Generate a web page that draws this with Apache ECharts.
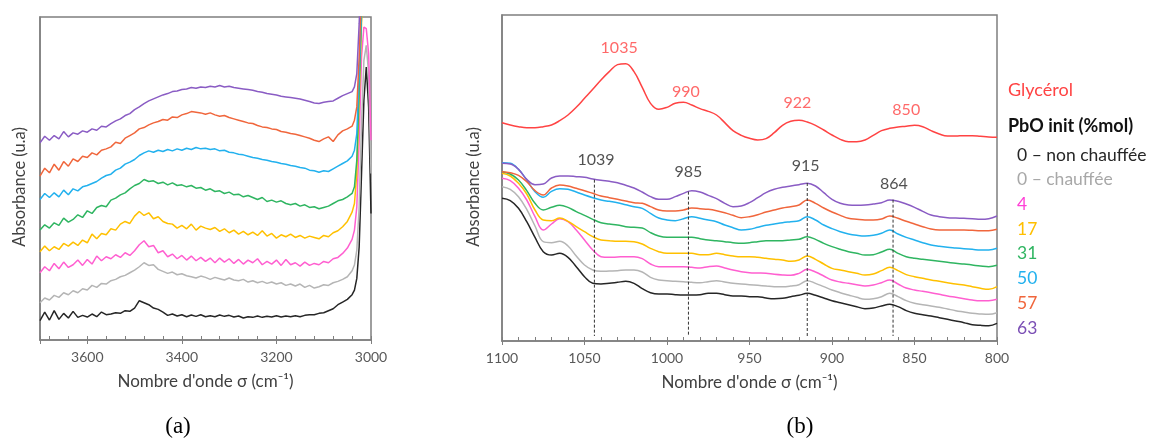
<!DOCTYPE html>
<html><head><meta charset="utf-8">
<script src="https://cdn.jsdelivr.net/npm/echarts@6/dist/echarts.min.js"></script>
<style>html,body{margin:0;padding:0;background:#fff}#c{width:1158px;height:439px}</style>
</head><body><div id="c"></div>
<script>
// ---------- Panel (a) : 3700 - 3000 cm-1 ----------
const xA = [3700,3690,3680,3670,3660,3650,3640,3630,3620,3610,3600,3590,3580,3570,3560,3550,3540,3530,3520,3510,
 3500,3490,3480,3470,3460,3450,3440,3430,3420,3410,3400,3390,3380,3370,3360,3350,3340,3330,3320,3310,
 3300,3290,3280,3270,3260,3250,3240,3230,3220,3210,3200,3190,3180,3170,3160,3150,3140,3130,3120,3110,
 3100,3090,3080,3070,3060,3050,3040,3035,3030,3025,3020,3015,3010,3005,3000];
const a_black = [5.8,8.4,6.0,8.8,6.2,8.0,6.6,8.6,6.8,7.4,6.9,7.8,7.0,8.4,7.6,7.8,8.2,8.0,8.8,8.6,
 9.6,11.8,11.2,10.6,9.6,9.2,8.4,7.4,7.8,7.2,7.6,7.0,7.5,7.1,7.6,7.0,7.3,7.0,7.5,7.1,
 7.4,6.9,7.2,6.6,7.0,6.8,7.2,6.8,7.1,6.9,7.3,6.9,7.2,7.0,7.3,7.0,7.4,7.6,7.6,8.0,
 8.2,8.8,9.4,10.6,11.4,12.2,13.6,15.0,18.5,28,50,72,82,70,38];
const a_gray = [11.2,12.6,12.0,13.4,12.8,14.2,13.6,14.8,14.2,15.4,15.0,16.4,15.8,17.0,16.8,17.8,18.2,19.0,19.4,20.2,
 21.0,22.0,23.2,22.4,22.6,21.2,20.6,20.0,20.4,19.6,19.9,19.3,19.0,18.6,19.2,18.8,18.2,18.8,18.4,18.0,
 18.6,18.0,17.8,18.2,17.4,17.8,17.2,17.6,17.0,17.4,16.8,17.2,16.4,16.8,16.2,16.8,15.8,16.4,15.6,16.0,
 16.6,16.4,17.2,17.6,18.2,19.0,20.8,22.5,27,40,65,84,88.5,80,50];
const a_pink = [20.2,22.0,20.8,23.0,21.4,23.4,21.8,22.6,24.0,22.4,24.2,22.8,25.2,23.8,25.0,24.4,25.6,24.8,26.2,25.4,
 26.8,28.6,29.8,28.0,28.4,26.2,26.8,25.0,25.8,24.4,25.4,24.0,25.2,23.8,24.8,23.6,24.6,23.2,24.6,23.4,
 24.4,23.0,24.2,22.8,24.0,23.2,24.4,22.6,23.6,22.8,24.0,22.4,24.2,22.6,23.2,22.2,23.4,22.4,23.0,22.6,
 23.6,23.2,24.4,24.8,26.0,27.6,30.2,33,40,60,85,94,93.5,86,60];
const a_yellow = [26.5,28.2,26.8,28.0,27.2,29.0,28.2,29.4,28.4,30.0,29.2,31.8,30.4,32.0,31.6,33.4,33.0,34.8,35.6,35.0,
 37.2,38.6,37.4,38.2,36.4,37.0,35.6,35.0,34.8,33.6,34.4,33.4,34.8,33.0,34.2,33.6,33.2,33.8,32.6,33.4,
 32.2,33.0,31.8,32.6,31.6,32.4,31.4,32.8,31.2,32.0,30.6,31.6,31.0,31.8,30.8,31.4,30.6,31.2,30.8,30.4,
 31.4,31.0,32.2,32.8,34.0,35.6,38.4,41,50,72,95,115,125,120,100];
const a_green = [33.0,34.6,33.6,35.2,34.4,36.6,35.4,36.2,37.6,36.8,38.8,38.0,39.8,40.4,40.0,42.0,42.6,43.6,44.2,45.4,
 46.4,47.0,48.2,47.6,47.8,47.0,47.4,46.6,47.2,46.4,46.6,46.0,46.4,45.6,45.8,45.0,45.4,44.6,44.8,44.0,
 44.4,43.6,43.8,43.0,43.4,42.8,42.2,42.8,41.6,42.0,41.4,41.8,41.0,40.6,41.0,40.2,40.6,39.8,40.0,39.4,
 39.8,40.2,41.0,41.8,42.2,43.0,44.0,46,54,75,98,120,130,125,105];
const a_blue = [42.2,44.0,42.8,44.2,43.0,45.0,43.6,45.4,44.8,46.0,46.4,47.0,47.6,48.6,49.4,49.8,51.0,51.6,52.8,53.4,
 54.2,55.4,56.2,56.8,56.4,57.0,56.6,57.2,56.8,57.4,57.0,57.6,57.2,57.8,57.4,57.6,57.2,57.4,56.8,57.0,
 56.4,56.2,55.8,55.6,55.2,54.8,54.6,54.2,54.0,53.6,53.4,53.0,52.8,52.4,52.2,51.8,51.6,51.0,50.8,50.4,
 50.8,50.6,51.4,52.2,53.0,53.8,55.2,57,62,80,100,125,135,130,110];
const a_orange = [49.2,51.6,50.2,52.8,51.0,53.6,52.2,54.4,53.6,55.2,54.8,56.2,55.6,57.0,57.4,58.0,59.4,59.0,60.6,61.4,
 62.2,63.4,63.8,64.6,65.2,65.6,66.2,66.0,67.0,66.8,67.6,68.0,68.6,68.4,68.2,67.8,68.2,67.6,67.2,67.4,
 66.8,66.4,66.0,65.6,65.2,65.0,64.4,64.0,63.8,63.4,63.2,62.6,62.4,62.0,61.8,61.4,61.0,60.6,60.0,59.6,
 60.4,61.0,59.6,61.6,62.8,63.4,64.2,66,70,85,105,130,140,135,115];
const a_purple = [59.2,61.2,60.0,61.4,60.4,62.6,61.0,62.2,61.8,62.8,62.4,63.4,63.0,64.2,64.0,65.0,65.8,66.4,67.4,68.0,
 69.2,70.0,71.0,71.8,72.4,73.0,73.6,74.0,74.6,74.8,75.2,75.4,75.8,75.6,76.0,75.8,76.2,76.0,76.4,76.0,
 76.2,75.8,75.6,75.4,75.2,75.0,74.6,74.4,74.0,73.8,73.6,73.2,73.0,72.8,72.6,72.4,72.0,71.6,71.2,71.0,
 71.4,71.6,71.8,72.6,73.4,74.0,74.6,76,80,95,115,140,150,145,125];

// ---------- Panel (b) : 1100 - 800 cm-1 ----------
const xB = [1100,1095,1090,1085,1080,1075,1070,1065,1060,1055,1050,1045,1040,1035,1030,1025,1020,1015,1010,1005,
 1000,995,990,985,980,975,970,965,960,955,950,945,940,935,930,925,920,915,910,905,
 900,895,890,885,880,875,870,865,860,855,850,845,840,835,830,825,820,815,810,805,800];
const b_glycerol = [65.5,64.8,64.3,64.0,64.0,64.3,64.8,66.1,67.8,70.1,72.8,75.5,78.3,80.8,82.9,83.2,80.8,76.1,71.3,69.5,
 70.1,71.3,71.6,70.8,69.7,68.9,67.8,65.5,63.1,61.7,60.8,60.3,60.7,62.5,64.7,65.9,66.2,65.7,64.7,63.3,
 61.8,60.5,59.8,59.8,60.3,61.7,63.1,63.8,64.2,64.4,64.7,64.3,63.1,62.1,61.5,61.5,61.6,61.6,61.4,61.2,61.1];
const b_black = [42.8,42.1,39.8,35.8,31.1,26.8,25.8,26.3,25.1,22.3,19.3,17.3,17.1,17.3,17.6,17.9,17.3,15.7,14.5,14.1,
 14.1,13.9,13.8,13.8,13.9,14.3,14.3,13.9,13.5,13.5,13.3,13.3,12.9,12.7,12.8,13.3,13.7,14.3,13.7,12.9,
 12.1,11.5,10.9,10.3,9.7,9.9,10.5,11.0,10.3,9.1,8.3,7.9,7.5,7.0,6.5,6.0,5.5,4.9,4.7,4.6,5.3];
const b_gray = [46.3,45.5,43.3,39.5,34.5,29.8,29.5,29.9,28.5,25.5,22.8,21.3,20.9,21.0,21.1,21.3,21.3,20.7,19.1,18.3,
 18.1,17.9,17.8,17.6,17.5,17.8,18.1,17.7,17.3,17.1,16.9,16.7,16.5,16.3,16.3,16.5,16.9,18.1,17.3,16.3,
 15.3,14.5,13.8,13.1,12.5,12.7,13.3,14.3,13.3,12.1,11.3,10.9,10.5,10.1,9.6,9.1,8.7,8.3,8.1,8.0,8.5];
const b_pink = [48.8,48.1,45.8,42.3,37.3,33.3,35.1,36.7,35.8,33.3,30.3,27.3,25.3,25.1,25.2,25.3,25.3,24.7,23.1,22.3,
 22.3,22.3,22.3,22.1,21.9,22.3,22.5,21.9,21.3,20.8,20.5,20.4,20.3,20.0,19.8,19.7,20.3,21.5,20.7,19.5,
 18.3,17.7,17.3,16.9,16.5,16.8,17.5,18.3,17.1,15.9,15.3,14.9,14.5,14.0,13.5,13.1,12.7,12.3,12.1,12.1,12.5];
const b_yellow = [50.3,49.5,47.3,44.1,39.3,36.3,36.1,36.9,35.9,34.3,32.8,31.3,30.3,30.1,29.9,29.9,29.8,29.1,27.8,26.8,
 26.3,26.3,26.3,26.3,25.9,25.9,26.3,25.9,25.5,25.3,25.3,25.1,24.8,24.5,24.3,23.9,24.3,25.5,24.5,23.1,
 21.8,21.3,20.8,20.3,19.8,20.1,21.1,22.1,21.1,19.9,19.3,18.8,18.3,17.9,17.5,17.1,16.8,16.3,15.8,15.5,16.3];
const b_green = [50.8,50.1,48.3,45.1,41.3,39.3,40.1,40.7,40.1,38.8,37.7,36.5,35.5,35.1,34.8,34.3,34.1,33.9,32.5,31.5,
 31.1,31.1,31.1,31.1,30.7,30.3,30.1,29.8,29.5,29.3,29.5,29.8,30.1,30.1,30.1,30.3,30.5,31.3,30.5,29.3,
 28.3,27.5,26.8,26.3,25.8,25.9,26.7,27.5,26.3,25.3,24.8,24.5,24.2,23.9,23.6,23.3,23.1,22.8,22.5,22.3,22.7];
const b_blue = [53.5,53.3,51.5,48.3,44.8,43.1,44.9,45.7,45.5,44.7,43.8,43.0,42.3,41.9,41.5,40.9,40.3,39.8,38.3,36.9,
 36.3,36.1,36.7,37.3,36.8,36.3,35.8,34.8,34.0,33.3,33.5,34.1,34.7,35.1,35.5,35.8,36.1,37.3,36.3,34.8,
 33.7,32.8,32.1,31.7,31.5,31.7,32.3,33.3,32.1,31.1,30.3,29.5,28.8,28.4,28.1,27.9,27.7,27.5,27.3,27.3,27.8];
const b_orange = [50.8,50.5,49.7,47.8,45.1,43.8,45.9,46.8,46.5,45.8,45.1,44.3,43.5,43.0,42.5,42.0,41.5,41.3,40.3,39.3,
 39.0,39.0,39.3,39.9,39.7,39.5,39.1,38.5,37.7,37.0,37.3,37.9,38.7,39.3,39.9,40.3,40.8,42.3,41.3,39.9,
 38.7,37.7,36.8,36.5,36.3,36.3,36.6,37.5,36.8,35.9,35.1,34.3,33.6,33.3,33.3,33.3,33.3,33.2,33.1,33.1,33.5];
const b_purple = [53.3,53.1,51.5,48.5,46.9,47.1,48.9,49.5,49.5,49.3,49.1,48.6,48.2,47.9,47.5,46.7,45.9,44.7,43.3,42.5,
 42.5,43.3,44.3,45.1,44.7,43.7,42.7,41.3,40.3,40.5,41.5,43.0,44.5,45.5,46.1,46.5,46.9,47.3,46.5,44.5,
 42.5,41.3,40.8,40.7,40.8,41.1,41.5,42.3,41.9,41.1,40.1,38.9,37.8,37.3,37.0,36.9,36.8,36.7,36.5,36.7,37.5];

// Peak annotations
const glyPeakLabels = ['1035','990','922','850'];
const glyPeakX = [1029, 988.5, 921, 855];
const glyPeakY = [87.9, 74.7, 71.4, 69.3];
const samplePeakLabels = ['1039','985','915','864'];
const samplePeakX = [1043, 987, 916, 862.5];
const samplePeakY = [54.2, 50.7, 52.5, 47.1];
const dashX = [1044, 987, 915, 863];
const dashTop = [48.4, 44.8, 47.4, 42.4];
const dashBottom = [1.5, 1.5, 1.5, 1.5];

// Series names / colours (bottom -> top)
const names = ['0 – non chauffée','0 – chauffée','4','17','31','50','57','63'];
const colors = ['#262626','#b5b5b5','#ff5fd0','#ffc000','#2fb561','#22b1ee','#f0663c','#8a5cc4'];
const legendColors = ['#262626','#a8a8a8','#ff3fd6','#ffbf00','#2fb561','#22b1ee','#f0663c','#7b4fb5'];
const seriesA = [a_black,a_gray,a_pink,a_yellow,a_green,a_blue,a_orange,a_purple];
const seriesB = [b_black,b_gray,b_pink,b_yellow,b_green,b_blue,b_orange,b_purple];
const ticksA = [3000,3200,3400,3600];
const glyColor = '#ff4343';

const FONT = 'Lato, "Open Sans", sans-serif';
const pairs = (xs, ys) => xs.map((x, i) => [x, ys[i]]);

const axisGray = '#7f7f7f';
function majorX(grid, min, max, interval, keep){
  return {type:'value', gridIndex:grid, min, max, interval, inverse:true, position:'bottom',
    axisLine:{show:true, lineStyle:{color:axisGray, width:1.5}},
    axisTick:{show:true, inside:false, length:4, lineStyle:{color:axisGray, width:1}},
    axisLabel:{color:'#595959', fontSize:14, fontFamily:FONT, margin:10,
      formatter: v => keep(v) ? String(v) : ''},
    splitLine:{show:false},
    name:'Nombre d\'onde σ (cm⁻¹)', nameLocation:'middle', nameGap:33,
    nameTextStyle:{color:'#404040', fontSize:17, fontFamily:FONT}};
}
function minorX(grid, min, max, interval){
  return {type:'value', gridIndex:grid, min, max, interval, inverse:true, position:'bottom',
    axisLine:{show:false}, axisLabel:{show:false}, splitLine:{show:false},
    axisTick:{show:true, inside:true, length:4, lineStyle:{color:axisGray, width:1}}};
}
function yAx(grid, max){
  return {type:'value', gridIndex:grid, min:0, max,
    axisLine:{show:true, lineStyle:{color:axisGray, width:1.5}},
    axisTick:{show:false}, axisLabel:{show:false}, splitLine:{show:false}};
}

const series = [];
seriesA.forEach((d, i) => series.push({type:'line', name:names[i], xAxisIndex:0, yAxisIndex:0,
  data:pairs(xA, d), showSymbol:false, symbol:'none', clip:true,
  lineStyle:{color:colors[i], width:1.5}, z:2+i}));
series.push({type:'line', name:'Glycérol', xAxisIndex:2, yAxisIndex:1, data:pairs(xB, b_glycerol),
  showSymbol:false, symbol:'none', smooth:0.4, lineStyle:{color:glyColor, width:1.5}});
seriesB.forEach((d, i) => series.push({type:'line', name:names[i]+' b', xAxisIndex:2, yAxisIndex:1,
  data:pairs(xB, d), showSymbol:false, symbol:'none', smooth:0.4,
  lineStyle:{color:colors[i], width:1.5}, z:2+i}));
dashX.forEach((x, i) => series.push({type:'line', xAxisIndex:2, yAxisIndex:1,
  data:[[x, dashTop[i]],[x, dashBottom[i]]], showSymbol:false, symbol:'none',
  lineStyle:{color:'#333', width:1, type:[3,2]}, z:20}));
series.push({type:'scatter', xAxisIndex:2, yAxisIndex:1, symbolSize:1, itemStyle:{color:'transparent'},
  data: glyPeakLabels.map((t, i) => ({name:t, value:[glyPeakX[i], glyPeakY[i]]})),
  label:{show:true, position:'inside', formatter:'{b}', color:glyColor, fontSize:16, fontFamily:FONT}});
series.push({type:'scatter', xAxisIndex:2, yAxisIndex:1, symbolSize:1, itemStyle:{color:'transparent'},
  data: samplePeakLabels.map((t, i) => ({name:t, value:[samplePeakX[i], samplePeakY[i]]})),
  label:{show:true, position:'inside', formatter:'{b}', color:'#262626', fontSize:16, fontFamily:FONT}});

const graphic = [
  {type:'text', x:20, y:187, rotation:Math.PI/2, style:{text:'Absorbance (u.a)', fill:'#404040', font:'16.5px '+FONT, align:'center', verticalAlign:'middle'}},
  {type:'text', x:474, y:187, rotation:Math.PI/2, style:{text:'Absorbance (u.a)', fill:'#404040', font:'16.5px '+FONT, align:'center', verticalAlign:'middle'}},
  {type:'text', x:178, y:427, style:{text:'(a)', fill:'#000', font:'23px "Liberation Serif", serif', align:'center', verticalAlign:'middle'}},
  {type:'text', x:800, y:427, style:{text:'(b)', fill:'#000', font:'23px "Liberation Serif", serif', align:'center', verticalAlign:'middle'}},
  {type:'text', x:1008, y:90, style:{text:'Glycérol', fill:glyColor, font:'18px '+FONT, verticalAlign:'middle'}},
  {type:'text', x:1008, y:126, style:{text:'PbO init (%mol)', fill:'#111', font:'bold 18px '+FONT, verticalAlign:'middle'}}
];
const legendY = [155,179,204,229,253,278,303,328];
names.forEach((n, i) => graphic.push({type:'text', x:1017, y:legendY[i],
  style:{text:n, fill:legendColors[i], font:'17.5px '+FONT, verticalAlign:'middle'}}));

const chart = echarts.init(document.getElementById('c'), null, {renderer:'canvas'});
chart.setOption({
  animation:false,
  backgroundColor:'#fff',
  grid:[
    {left:40, top:17, width:331, height:323, show:true, borderColor:axisGray, borderWidth:1.5, containLabel:false},
    {left:502, top:15, width:495, height:326, show:true, borderColor:axisGray, borderWidth:1.5, containLabel:false}
  ],
  xAxis:[
    majorX(0, 3000, 3700, 200, v => ticksA.includes(v)),
    minorX(0, 3000, 3700, 40),
    majorX(1, 800, 1100, 50, v => v >= 800 && v <= 1100),
    minorX(1, 800, 1100, 10)
  ],
  yAxis:[yAx(0, 97), yAx(1, 97.8)],
  graphic,
  series
});
</script></body></html>
